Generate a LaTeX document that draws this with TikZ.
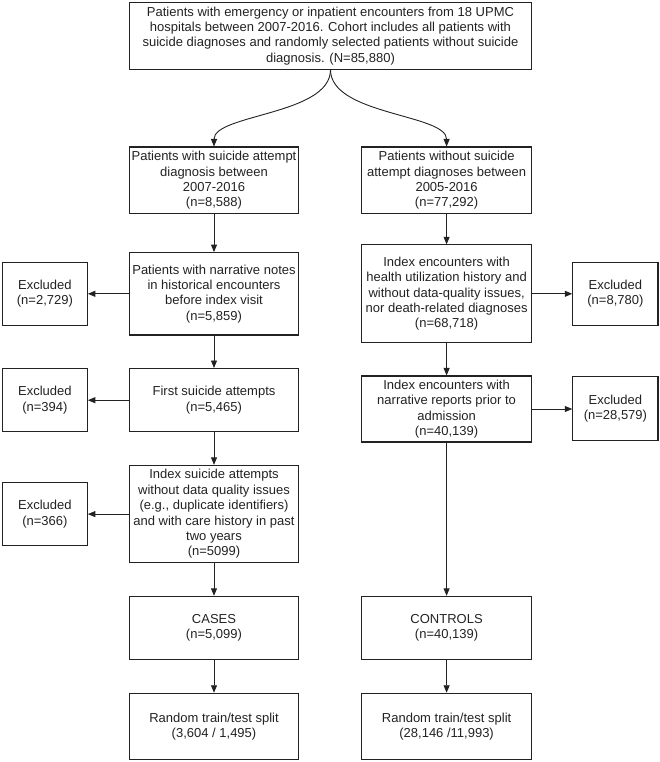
\documentclass[tikz,border=0pt]{standalone}
\usepackage{fontspec}
\setmainfont{Liberation Sans}
\usetikzlibrary{arrows.meta}
\definecolor{ink}{HTML}{222222}
\begin{document}
\begin{tikzpicture}[x=1pt,y=-1pt,
  box/.style={draw=ink, line width=1.1pt, align=center, inner sep=0pt, text=ink,
    font=\fontsize{13pt}{15.4pt}\selectfont},
  arr/.style={draw=ink, line width=0.9pt, -{Triangle[length=7.5pt,width=6pt]}}]
\useasboundingbox (0,0) rectangle (660,762);
% top
\node[box, minimum width=402pt, minimum height=66.7pt] (top) at (330.5,35.8)
  {Patients with emergency or inpatient encounters from 18 UPMC\\hospitals between 2007-2016. Cohort includes all patients with\\suicide diagnoses and randomly selected patients without suicide\\diagnosis. (N=85,880)};
% row 1
\node[box, minimum width=169pt, minimum height=66.7pt] (L1) at (214,180.4)
  {Patients with suicide attempt\\diagnosis between\\2007-2016\\(n=8,588)};
\node[box, minimum width=169.5pt, minimum height=66.7pt] (R1) at (446.6,180.4)
  {Patients without suicide\\attempt diagnoses between\\2005-2016\\(n=77,292)};
% row 2
\node[box, minimum width=169pt, minimum height=82.3pt] (L2) at (214,293.8)
  {Patients with narrative notes\\in historical encounters\\before index visit\\(n=5,859)};
\node[box, minimum width=169.5pt, minimum height=97.8pt] (R2) at (446.6,293.8)
  {Index encounters with\\health utilization history and\\without data-quality issues,\\nor death-related diagnoses\\(n=68,718)};
\node[box, minimum width=84.8pt, minimum height=62.8pt] (EL1) at (44.9,293.8)
  {Excluded\\(n=2,729)};
\node[box, minimum width=85.2pt, minimum height=62.8pt] (ER1) at (615.4,293.8)
  {Excluded\\(n=8,780)};
% row 3
\node[box, minimum width=169pt, minimum height=63.3pt] (L3) at (214,400.2)
  {First suicide attempts\\(n=5,465)};
\node[box, minimum width=84.8pt, minimum height=63.3pt] (EL2) at (44.9,400.2)
  {Excluded\\(n=394)};
\node[box, minimum width=169.5pt, minimum height=66pt] (R3) at (446.6,409)
  {Index encounters with\\narrative reports prior to\\admission\\(n=40,139)};
\node[box, minimum width=85.2pt, minimum height=63.3pt] (ER2) at (615.4,408.5)
  {Excluded\\(n=28,579)};
% row 4
\node[box, minimum width=169pt, minimum height=97.4pt] (L4) at (214,514.1)
  {Index suicide attempts\\without data quality issues\\(e.g., duplicate identifiers)\\and with care history in past\\two years\\(n=5099)};
\node[box, minimum width=84.8pt, minimum height=63.3pt] (EL3) at (44.9,514.1)
  {Excluded\\(n=366)};
% row 5
\node[box, minimum width=169pt, minimum height=63.3pt] (L5) at (214,628)
  {CASES\\(n=5,099)};
\node[box, minimum width=169.5pt, minimum height=63.3pt] (R5) at (446.6,628)
  {CONTROLS\\(n=40,139)};
% row 6
\node[box, minimum width=169pt, minimum height=66.2pt] (L6) at (214,726.4)
  {Random train/test split\\(3,604 / 1,495)};
\node[box, minimum width=169.5pt, minimum height=66.2pt] (R6) at (446.6,726.4)
  {Random train/test split\\(28,146 /11,993)};
% connectors
\draw[arr] (top.south) .. controls +(0,45.4) and +(0,-32.5) .. (L1.north);
\draw[arr] (top.south) .. controls +(0,45.4) and +(0,-32.5) .. (R1.north);
\draw[arr] (L1) -- (L2);
\draw[arr] (L2) -- (L3);
\draw[arr] (L3) -- (L4);
\draw[arr] (L4) -- (L5);
\draw[arr] (L5) -- (L6);
\draw[arr] (R1) -- (R2);
\draw[arr] (R2) -- (R3);
\draw[arr] (R3) -- (R5);
\draw[arr] (R5) -- (R6);
\draw[arr] (L2) -- (EL1);
\draw[arr] (L3) -- (EL2);
\draw[arr] (L4) -- (EL3);
\draw[arr] (R2) -- (ER1);
\draw[arr] (R3.east) -- (ER2.west |- R3.east);
\end{tikzpicture}
\end{document}
